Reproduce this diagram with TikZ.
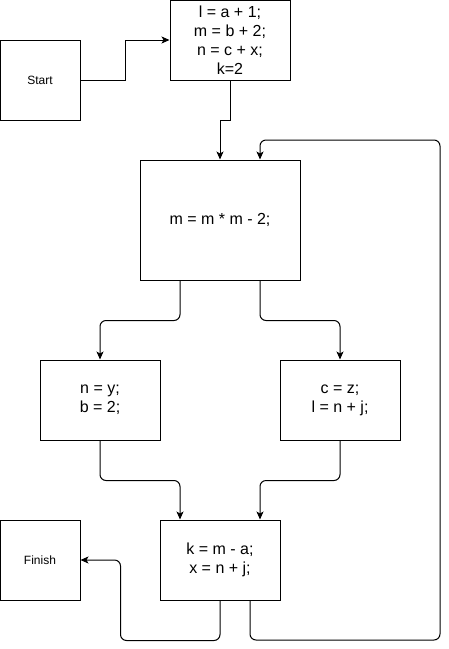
\documentclass[tikz,border=0pt]{standalone}
\usepackage{fontspec}
\setmainfont{Liberation Sans}
\usetikzlibrary{arrows.meta}
\begin{document}
\begin{tikzpicture}[x=1pt,y=-1pt,
  box/.style={draw,line width=1pt,inner sep=0pt,align=center,
    minimum width=#1,font=\fontsize{16}{19.2}\selectfont},
  box/.default=120pt,
  smallbox/.style={draw,line width=1pt,inner sep=0pt,minimum width=80pt,
    minimum height=80pt,font=\fontsize{12}{14.4}\selectfont},
  link/.style={line width=1pt,-{Stealth[length=8pt,width=7pt,inset=2pt]}},
  roundlink/.style={link,rounded corners=6pt}]
\useasboundingbox (0,0) rectangle (449,649);

% blocks
\node[smallbox] (start) at (40,80) {Start};
\node[box,minimum height=80pt] (init) at (230,40) {l = a + 1;\\m = b + 2;\\n = c + x;\\k=2};
\node[box=160pt,minimum height=120pt] (square) at (220,220) {m = m * m - 2;};
\node[box,minimum height=80pt] (left) at (100,400) {n = y;\\b = 2;};
\node[box,minimum height=80pt] (right) at (340,400) {c = z;\\l = n + j;};
\node[box,minimum height=80pt] (join) at (220,560) {k = m - a;\\x = n + j;};
\node[smallbox] (finish) at (40,560) {Finish};

% loop-back corners
\coordinate (loopB) at (440,640);
\coordinate (loopT) at (440,140);

% connectors
\draw[link] (start.east) -- ++(45,0) |- (init.west);
\draw[link] (init.south) -- ++(0,40) -| (square.north);
\draw[roundlink] ([xshift=-40pt]square.south) -- ++(0,40) -| (left.north);
\draw[roundlink] ([xshift=40pt]square.south) -- ++(0,40) -| (right.north);
\draw[roundlink] (left.south) -- ++(0,40) -| ([xshift=-40pt]join.north);
\draw[roundlink] (right.south) -- ++(0,40) -| ([xshift=40pt]join.north);
\draw[roundlink] (join.south) -- ++(0,40) -| ([xshift=40pt]finish.east) -- (finish.east);
\draw[roundlink] ([xshift=30pt]join.south) |- (loopB) -- (loopT) -| ([xshift=40pt]square.north);
\end{tikzpicture}
\end{document}
